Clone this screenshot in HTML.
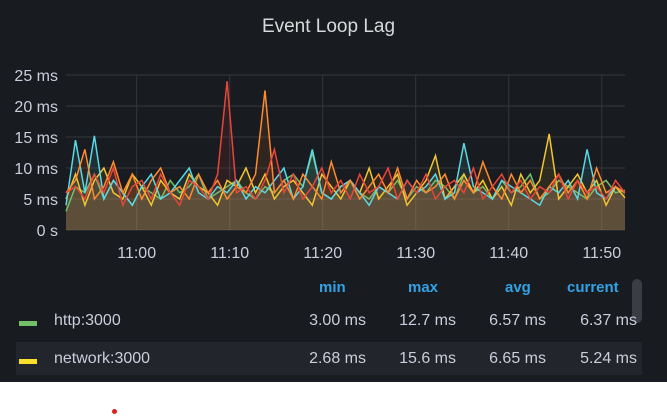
<!DOCTYPE html>
<html><head><meta charset="utf-8"><style>
body{margin:0;width:667px;height:417px;background:#fff;font-family:"Liberation Sans",sans-serif;overflow:hidden;position:relative}
#panel{position:absolute;left:0;top:0;width:667px;height:382px;background:#181b1f}
.t{position:absolute;color:#ccccdc;font-size:16px}
.h{position:absolute;top:279px;color:#33a2e5;font-weight:bold;font-size:15px}
.row{position:absolute;left:16px;width:626px;height:33px}
.v{position:absolute;color:#ccccdc;font-size:16px;text-align:right}
</style></head><body>
<div id="panel">
<div class="t" style="left:0;width:657px;text-align:center;top:16px;font-size:19px;color:#d8d9da">Event Loop Lag</div>
<svg id="chart" width="667" height="270" style="position:absolute;left:0;top:0"></svg>
<div class="h" style="left:319px">min</div>
<div class="h" style="left:408px">max</div>
<div class="h" style="left:505px">avg</div>
<div class="h" style="left:567px">current</div>
<div style="position:absolute;left:632px;top:279px;width:10px;height:44px;border-radius:5px;background:#3a3d43"></div>
<div class="row" style="top:306px">
 <div style="position:absolute;left:3px;top:15px;width:18px;height:5px;background:#73bf69"></div>
 <div class="t" style="left:38px;top:6px">http:3000</div>
 <div class="v" style="left:240px;width:110px;top:6px">3.00 ms</div>
 <div class="v" style="left:330px;width:110px;top:6px">12.7 ms</div>
 <div class="v" style="left:420px;width:110px;top:6px">6.57 ms</div>
 <div class="v" style="left:511px;width:110px;top:6px">6.37 ms</div>
</div>
<div class="row" style="top:342px;background:#22252b">
 <div style="position:absolute;left:3px;top:17px;width:18px;height:5px;background:#fade2a"></div>
 <div class="t" style="left:38px;top:8px">network:3000</div>
 <div class="v" style="left:240px;width:110px;top:8px">2.68 ms</div>
 <div class="v" style="left:330px;width:110px;top:8px">15.6 ms</div>
 <div class="v" style="left:420px;width:110px;top:8px">6.65 ms</div>
 <div class="v" style="left:511px;width:110px;top:8px">5.24 ms</div>
</div>
</div>
<div style="position:absolute;left:112px;top:409px;width:5px;height:5px;border-radius:50%;background:#e02020"></div>
<script>
const yTicks=[0,5,10,15,20,25];
const yLabels=["0 s","5 ms","10 ms","15 ms","20 ms","25 ms"];
const xTicks=[60,70,80,90,100,110];
const xLabels=["11:00","11:10","11:20","11:30","11:40","11:50"];
const tStart=52.4, tEnd=112.5;
const seriesNames=["http","network","cyan","orange","red"];
const seriesColors=["#73bf69","#f2c531","#5ad8e6","#ff8a30","#e8453c"];
const http=[3,7,6,9,5,8,6,4,7,6,5,8,6,7,9,5,6,7,8,6,5,7,6,8,9,7,12.5,6,5,7,8,6,5,7,6,8,5,7,6,8,7,5,9,6,7,5,8,6,7,9,5,6,8,7,6,5,7,8,6,6.4];
const network=[5,9,4,8,10,6,5,9,7,4,8,6,5,9,7,6,4,8,7,10,6,9,5,7,8,6,4,9,7,5,8,6,10,5,7,9,4,6,8,12,5,7,9,6,8,5,7,4,9,6,8,15.5,5,7,9,6,8,4,7,5.2];
const cyan=[4,14.5,6,15.2,5,8,6,4,7,9,5,6,8,10,6,5,7,6,8,5,7,6,8,10,5,7,13,6,5,7,8,6,4,7,6,5,8,6,7,9,5,6,14,7,6,5,8,7,6,5,4,7,6,8,5,13,6,5,7,6];
const orange=[6,8,13,5,7,11,6,9,5,8,10,6,7,5,9,6,8,5,7,6,9,22.5,6,8,5,9,7,5,11,6,8,5,7,9,6,10,5,8,6,7,9,5,8,6,11,7,5,9,6,8,5,7,9,6,8,5,10,6,7,6];
const red=[6,7,5,9,6,10,4,7,8,5,9,6,4,8,7,5,9,24,6,7,5,8,13,6,9,5,7,10,6,8,5,9,6,7,10,5,8,6,9,5,7,8,6,10,5,7,9,6,8,5,7,6,9,5,8,6,7,5,8,6];
const allSeries=[http,network,cyan,orange,red];
const X0=66,X1=625,Y0=230,Y1=75;
const sx=t=>X0+(t-tStart)/(tEnd-tStart)*(X1-X0);
const sy=v=>Y0-v/25*(Y0-Y1);
const NS="http://www.w3.org/2000/svg";
const svg=document.getElementById('chart');
function mk(tag,attrs){const e=document.createElementNS(NS,tag);for(const k in attrs)e.setAttribute(k,attrs[k]);svg.appendChild(e);return e;}
yTicks.forEach((v,i)=>{
 const l=mk('line',{x1:X0,x2:X1,y1:sy(v),y2:sy(v),stroke:'#34373c','stroke-width':1});
 
 
 const t=mk('text',{x:58,y:sy(v)+6,'text-anchor':'end',fill:'#ccccdc','font-size':16});
 t.textContent=yLabels[i];
 
 
});
xTicks.forEach((v,i)=>{
 const l=mk('line',{x1:sx(v),x2:sx(v),y1:Y1,y2:Y0,stroke:'#34373c','stroke-width':1});
 
 
 const t=mk('text',{x:sx(v),y:258,'text-anchor':'middle',fill:'#ccccdc','font-size':16});
 t.textContent=xLabels[i];
 
 
});
allSeries.forEach((s,k)=>{
 const n=s.length;
 const pts=s.map((v,i)=>[sx(tStart+i*(tEnd-tStart)/(n-1)),sy(v)]);
 const d=pts.map((p,i)=>(i?'L':'M')+p[0].toFixed(1)+','+p[1].toFixed(1)).join('');
 const a=mk('path',{d:d+`L${X1},${Y0}L${X0},${Y0}Z`,fill:seriesColors[k],'fill-opacity':0.1,stroke:'none'});
 
 
});
allSeries.forEach((s,k)=>{
 const n=s.length;
 const pts=s.map((v,i)=>[sx(tStart+i*(tEnd-tStart)/(n-1)),sy(v)]);
 const d=pts.map((p,i)=>(i?'L':'M')+p[0].toFixed(1)+','+p[1].toFixed(1)).join('');
 const l=mk('path',{d:d,fill:'none',stroke:seriesColors[k],'stroke-width':1.5});
 
 
});
</script>
</body></html>
